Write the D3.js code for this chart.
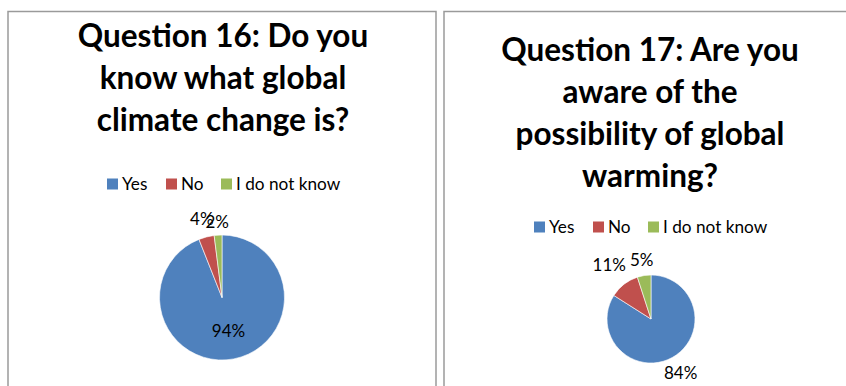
<!DOCTYPE html>
<html>
<head>
<meta charset="utf-8">
<script src="https://cdn.jsdelivr.net/npm/d3@7"></script>
<style>
  html, body { margin: 0; padding: 0; background: #fff; }
  svg { display: block; }
  text { font-family: Lato, "Open Sans", sans-serif; fill: #000; }
</style>
</head>
<body>
<svg id="chart" width="846" height="386"></svg>
<script>
// Survey answers, one array per question
const categories = ["Yes", "No", "I do not know"];
const q16Values = [94, 4, 2];
const q17Values = [84, 11, 5];
const q16Title = ["Question 16: Do you", "know what global", "climate change is?"];
const q17Title = ["Question 17: Are you", "aware of the", "possibility of global", "warming?"];
const sliceColors = ["#4F81BD", "#C0504D", "#9BBB59"];

const svg = d3.select("#chart");
const color = d3.scaleOrdinal().domain(categories).range(sliceColors);

// Each panel: frame, title, legend and pie
const panels = [
  { values: q16Values, title: q16Title, x0: 8, x1: 436, titleY: 47, legendY: 184,
    cx: 222, cy: 297.5, r: 62.5, labels: [0.55, 1.3, 1.22] },
  { values: q17Values, title: q17Title, x0: 444, x1: 860, titleY: 61, legendY: 227,
    cx: 651, cy: 319, r: 44, labels: [1.4, 1.55, 1.36] }
];

const pie = d3.pie().sort(null).value(d => d);

panels.forEach(p => {
  const g = svg.append("g");

  // panel frame (top and side edges, open at the bottom)
  g.append("path")
    .attr("d", `M${p.x0},400 V11.5 H${p.x1} V400`)
    .attr("fill", "none")
    .attr("stroke", "#9a9a9a")
    .attr("stroke-width", 1.5);

  const mid = (p.x0 + p.x1) / 2;
  const titleX = Math.min(mid + 1, 650);

  // title, one line per entry
  g.append("text")
    .attr("text-anchor", "middle")
    .attr("font-weight", "bold")
    .attr("font-size", 31.5)
    .selectAll("tspan")
    .data(p.title)
    .join("tspan")
    .attr("x", titleX)
    .attr("y", (d, i) => p.titleY + i * 42)
    .text(d => d);

  // legend
  const legendX = titleX - 116;
  const offsets = [0, 59, 114];
  const lg = g.append("g").attr("transform", `translate(${legendX},${p.legendY})`);
  const item = lg.selectAll("g")
    .data(categories)
    .join("g")
    .attr("transform", (d, i) => `translate(${offsets[i]},0)`);
  item.append("rect")
    .attr("x", 0).attr("y", -5.5)
    .attr("width", 11).attr("height", 11)
    .attr("fill", d => color(d));
  item.append("text")
    .attr("x", 15).attr("y", 0)
    .attr("dy", "0.36em")
    .attr("font-size", 17.2)
    .text(d => d);

  // pie
  const arcs = pie(p.values);
  const arc = d3.arc().innerRadius(0).outerRadius(p.r);
  const pg = g.append("g").attr("transform", `translate(${p.cx},${p.cy})`);
  pg.selectAll("path")
    .data(arcs)
    .join("path")
    .attr("d", arc)
    .attr("fill", (d, i) => sliceColors[i])
    .attr("stroke", "#fff")
    .attr("stroke-width", 0.6);

  // percentage labels
  pg.selectAll("text.lbl")
    .data(arcs)
    .join("text")
    .attr("class", "lbl")
    .attr("text-anchor", "middle")
    .attr("dy", "0.36em")
    .attr("font-size", 17)
    .attr("transform", (d, i) => {
      const rr = p.r * p.labels[i];
      const c = d3.arc().innerRadius(rr).outerRadius(rr).centroid(d);
      return `translate(${c[0]},${c[1]})`;
    })
    .text(d => d.data + "%");
});
</script>
</body>
</html>
